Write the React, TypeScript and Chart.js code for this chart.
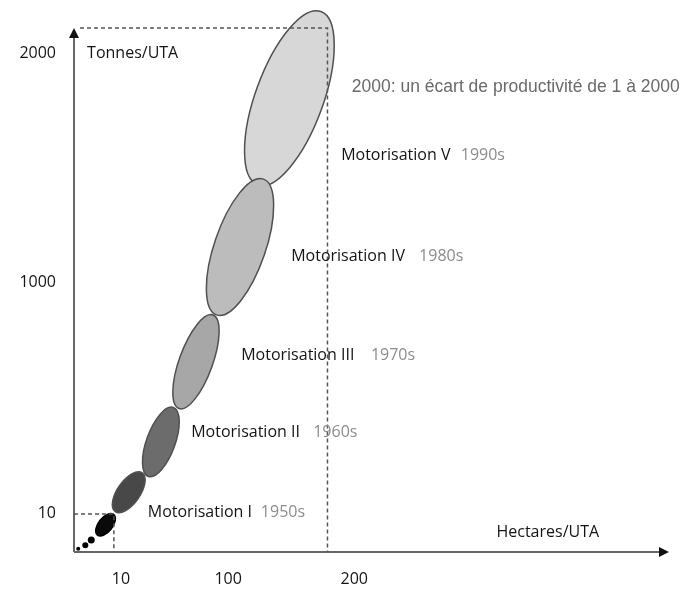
import { useEffect, useRef } from 'react';
import { Chart, registerables } from 'chart.js';

Chart.register(...registerables);

// ---- data (schematic units, axis 0..100) ----
const xTickValues = [7.9, 25.9, 47.1];
const xTickLabels = ['10', '100', '200'];
const yTickValues = [7.4, 51.5, 95.2];
const yTickLabels = ['10', '1000', '2000'];

const phaseNames = ['Motorisation V', 'Motorisation IV', 'Motorisation III', 'Motorisation II', 'Motorisation I', ''];
const phaseDecades = ['1990s', '1980s', '1970s', '1960s', '1950s', ''];
const phaseX = [36.2, 27.9, 20.5, 14.6, 9.2, 5.3];
const phaseY = [86.6, 58.2, 36.3, 21.0, 11.4, 5.2];
const phaseLength = [17.6, 13.7, 9.5, 7.0, 4.5, 2.5];
const phaseWidth = [5.7, 4.3, 2.8, 2.4, 1.9, 1.2];
const phaseTilt = [20, 19, 20, 20, 35, 38];

const earlyX = [2.9, 1.9, 0.7];
const earlyY = [2.3, 1.3, 0.6];

const guideLow = { x: 6.7, y: 7.25 };
const guideHigh = { x: 42.6, y: 100 };

const annotationText = '2000: un écart de productivité de 1 à 2000';
const yTitle = 'Tonnes/UTA';
const xTitle = 'Hectares/UTA';

// ---- layout / styles ----
const phaseFill = ['#d7d7d7', '#bcbcbc', '#a7a7a7', '#6c6c6c', '#484848', '#0a0a0a'];
const labelX = [44.9, 36.5, 28.1, 19.7, 12.4];
const labelY = [75.6, 56.5, 37.6, 22.9, 7.6];
const decadeX = [65.0, 58.0, 49.9, 40.2, 31.4];
const annotationPos = { x: 46.7, y: 88.7 };
const yTitlePos = { x: 2.2, y: 95.2 };
const xTitlePos = { x: 71.0, y: 3.8 };

const FONT = '"Open Sans", "Noto Sans", sans-serif';

const schematicPlugin = {
  id: 'schematic',
  beforeDatasetsDraw(chart: any) {
    const ctx = chart.ctx as CanvasRenderingContext2D;
    const xs = chart.scales.x;
    const ys = chart.scales.y;
    const ca = chart.chartArea;
    const px = (v: number) => xs.getPixelForValue(v);
    const py = (v: number) => ys.getPixelForValue(v);
    ctx.save();

    // axes
    ctx.strokeStyle = '#666';
    ctx.lineWidth = 2;
    ctx.beginPath();
    ctx.moveTo(ca.left, ca.bottom);
    ctx.lineTo(ca.left, ca.top + 8);
    ctx.moveTo(ca.left, ca.bottom);
    ctx.lineTo(ca.right - 8, ca.bottom);
    ctx.stroke();
    ctx.fillStyle = '#111';
    ctx.beginPath();
    ctx.moveTo(ca.left, ca.top);
    ctx.lineTo(ca.left - 5, ca.top + 10);
    ctx.lineTo(ca.left + 5, ca.top + 10);
    ctx.closePath();
    ctx.fill();
    ctx.beginPath();
    ctx.moveTo(ca.right, ca.bottom);
    ctx.lineTo(ca.right - 10, ca.bottom - 5);
    ctx.lineTo(ca.right - 10, ca.bottom + 5);
    ctx.closePath();
    ctx.fill();

    // ellipses
    const meta = chart.getDatasetMeta(0);
    const unitX = Math.abs(px(1) - px(0));
    const unitY = Math.abs(py(1) - py(0));
    meta.data.forEach((el: any, i: number) => {
      ctx.beginPath();
      ctx.ellipse(el.x, el.y, phaseWidth[i] * unitX, phaseLength[i] * unitY, (phaseTilt[i] * Math.PI) / 180, 0, Math.PI * 2);
      ctx.fillStyle = phaseFill[i];
      ctx.fill();
      ctx.strokeStyle = i === 5 ? '#000' : '#505050';
      ctx.lineWidth = 1.5;
      ctx.stroke();
    });

    // dashed guides (over the ellipses)
    ctx.strokeStyle = '#555';
    ctx.lineWidth = 1.5;
    ctx.setLineDash([4, 3]);
    ctx.beginPath();
    ctx.moveTo(ca.left, py(guideLow.y));
    ctx.lineTo(px(guideLow.x), py(guideLow.y));
    ctx.lineTo(px(guideLow.x), ca.bottom);
    ctx.moveTo(ca.left + 6, py(guideHigh.y));
    ctx.lineTo(px(guideHigh.x), py(guideHigh.y));
    ctx.lineTo(px(guideHigh.x), ca.bottom);
    ctx.stroke();
    ctx.setLineDash([]);

    // tick labels
    ctx.font = `16px ${FONT}`;
    ctx.fillStyle = '#141414';
    ctx.textBaseline = 'middle';
    ctx.textAlign = 'center';
    xTickValues.forEach((v, i) => ctx.fillText(xTickLabels[i], px(v), ca.bottom + 27));
    ctx.textAlign = 'right';
    yTickValues.forEach((v, i) => ctx.fillText(yTickLabels[i], ca.left - 18, py(v)));

    // axis titles
    ctx.textAlign = 'left';
    ctx.fillText(yTitle, px(yTitlePos.x), py(yTitlePos.y));
    ctx.fillText(xTitle, px(xTitlePos.x), py(xTitlePos.y));

    // phase labels
    phaseNames.forEach((name, i) => {
      if (!name) return;
      ctx.fillStyle = '#141414';
      ctx.fillText(name, px(labelX[i]), py(labelY[i]));
      ctx.fillStyle = '#8c8c8c';
      ctx.fillText(phaseDecades[i], px(decadeX[i]), py(labelY[i]));
    });

    // annotation
    ctx.font = '17.5px "Liberation Sans", Arial, sans-serif';
    ctx.fillStyle = '#6a6a6a';
    ctx.fillText(annotationText, px(annotationPos.x), py(annotationPos.y));

    ctx.restore();
  },
};

export default function App() {
  const ref = useRef<HTMLCanvasElement>(null);
  useEffect(() => {
    document.body.style.margin = '0';
    const chart = new Chart(ref.current!, {
      type: 'scatter',
      data: {
        datasets: [
          {
            data: phaseX.map((x, i) => ({ x, y: phaseY[i] })),
            pointRadius: 0,
            showLine: false,
          },
          {
            data: earlyX.map((x, i) => ({ x, y: earlyY[i] })),
            pointRadius: [3.5, 3, 2],
            backgroundColor: '#000',
            borderColor: '#000',
            borderWidth: 0,
            showLine: false,
          },
        ],
      },
      options: {
        responsive: false,
        animation: false,
        events: [],
        layout: { padding: { left: 74, right: 21, top: 28, bottom: 41 } },
        scales: {
          x: { type: 'linear', min: 0, max: 100, display: false },
          y: { type: 'linear', min: 0, max: 100, display: false },
        },
        plugins: { legend: { display: false }, tooltip: { enabled: false } },
      },
      plugins: [schematicPlugin],
    });
    return () => chart.destroy();
  }, []);
  return (
    <div style={{ width: 690, height: 593, background: '#fff' }}>
      <canvas ref={ref} width={690} height={593} />
    </div>
  );
}
